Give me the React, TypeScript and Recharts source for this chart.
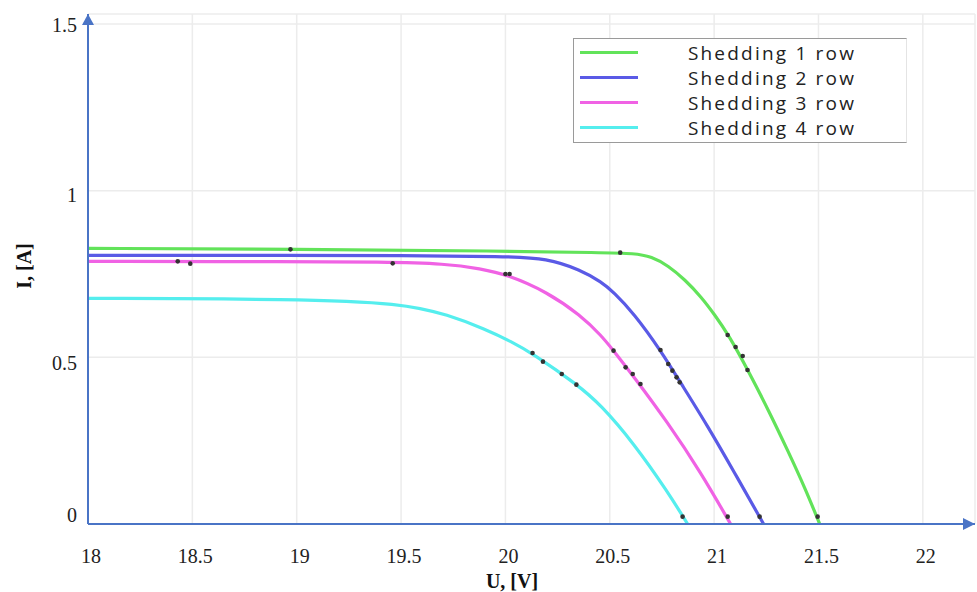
import React from 'react';
import {
  ComposedChart, Line, Scatter, XAxis, YAxis, CartesianGrid, Legend, ReferenceDot,
} from 'recharts';

// Shedding 1 row (green)
const U_ROW1 = [18, 19, 20, 20.46, 20.62, 20.7, 20.78, 20.86, 20.94, 21.0, 21.07, 21.166, 21.26, 21.357, 21.434, 21.506];
const I_ROW1 = [0.827, 0.824, 0.819, 0.814, 0.812, 0.802, 0.775, 0.733, 0.68, 0.63, 0.567, 0.457, 0.342, 0.215, 0.11, 0];
// Shedding 2 row (blue)
const U_ROW2 = [18, 19, 19.5, 20, 20.2, 20.36, 20.46, 20.518, 20.614, 20.743, 20.853, 20.968, 21.094, 21.237];
const I_ROW2 = [0.806, 0.806, 0.805, 0.803, 0.797, 0.762, 0.726, 0.696, 0.633, 0.522, 0.41, 0.295, 0.158, 0];
// Shedding 3 row (magenta)
const U_ROW3 = [18, 19, 19.4, 19.72, 19.88, 20.01, 20.2, 20.36, 20.46, 20.518, 20.614, 20.777, 20.935, 21.079];
const I_ROW3 = [0.788, 0.787, 0.786, 0.781, 0.766, 0.748, 0.696, 0.626, 0.565, 0.52, 0.443, 0.305, 0.156, 0];
// Shedding 4 row (cyan)
const U_ROW4 = [18, 19, 19.5, 19.73, 19.9, 20.03, 20.134, 20.345, 20.456, 20.614, 20.777, 20.873];
const I_ROW4 = [0.677, 0.675, 0.663, 0.627, 0.585, 0.547, 0.51, 0.418, 0.358, 0.243, 0.097, 0];

// measured points (black dots)
const DOT_U = [18.97, 20.55, 21.065, 21.103, 21.137, 21.16, 21.496,
  20.743, 20.78, 20.8, 20.82, 20.835, 21.218,
  18.43, 18.49, 19.46, 20.0, 20.02, 20.518, 20.576, 20.61, 20.647, 21.065,
  20.13, 20.18, 20.27, 20.34, 20.849];
const DOT_I = [0.824, 0.814, 0.567, 0.531, 0.504, 0.462, 0.022,
  0.522, 0.48, 0.46, 0.44, 0.425, 0.022,
  0.788, 0.781, 0.782, 0.75, 0.75, 0.52, 0.47, 0.45, 0.42, 0.022,
  0.513, 0.487, 0.45, 0.418, 0.022];

const X_TICKS = [18, 18.5, 19, 19.5, 20, 20.5, 21, 21.5, 22];
const Y_TICKS = [0, 0.5, 1, 1.5];
const SERIES_NAMES = ['Shedding 1 row', 'Shedding 2 row', 'Shedding 3 row', 'Shedding 4 row'];
const COLORS = ['#62E35A', '#5A5AE6', '#F062E4', '#55EEEE'];

const toPts = (u: number[], i: number[]) => u.map((v, k) => ({ u: v, i: i[k] }));
const SERIES = [toPts(U_ROW1, I_ROW1), toPts(U_ROW2, I_ROW2), toPts(U_ROW3, I_ROW3), toPts(U_ROW4, I_ROW4)];
const DOTS = toPts(DOT_U, DOT_I);

const AXIS_COLOR = '#4A74C6';
const X_MAX = 22.25;
const Y_MAX = 1.53;
const Y_LABEL_SHIFT: Record<string, number> = { '0': -9, '0.5': 6, '1': 4, '1.5': 1 };

const XTick = (props: any) => {
  const { x, y, payload } = props;
  return (
    <text x={x + 3} y={y + 31} textAnchor="middle" fontFamily="Liberation Serif" fontSize={20} fill="#222">
      {payload.value}
    </text>
  );
};

const YTick = (props: any) => {
  const { x, y, payload } = props;
  const dy = Y_LABEL_SHIFT[String(payload.value)] || 0;
  return (
    <text x={x - 3} y={y + dy + 7} textAnchor="end" fontFamily="Liberation Serif" fontSize={20} fill="#222">
      {payload.value}
    </text>
  );
};

const LegendBox = () => (
  <div
    style={{
      width: 334, height: 105, boxSizing: 'border-box',
      borderLeft: '1.5px solid #9a9a9a', borderTop: '1.5px solid #9a9a9a',
      borderBottom: '1.5px solid #9a9a9a', borderRight: '1px solid #e4e4e4',
      background: '#fff', paddingTop: 1,
    }}
  >
    {SERIES_NAMES.map((n, k) => (
      <div key={n} style={{ display: 'flex', alignItems: 'center', height: 25 }}>
        <div style={{ width: 58, height: 3, background: COLORS[k], marginLeft: 6 }} />
        <div
          style={{
            flex: 1, textAlign: 'center', fontFamily: 'Open Sans',
            fontSize: 19, letterSpacing: 2.2, color: '#222', whiteSpace: 'nowrap',
          }}
        >
          {n}
        </div>
      </div>
    ))}
  </div>
);

const ArrowRight = (props: any) => {
  const { cx, cy } = props;
  return <path d={`M${cx - 12},${cy - 6} L${cx},${cy} L${cx - 12},${cy + 6} Z`} fill={AXIS_COLOR} />;
};
const ArrowUp = (props: any) => {
  const { cx, cy } = props;
  return <path d={`M${cx - 6},${cy + 11} L${cx},${cy} L${cx + 6},${cy + 11} Z`} fill={AXIS_COLOR} />;
};

export default function App() {
  return (
    <div style={{ position: 'absolute', left: 0, top: 0, width: 977, height: 592, background: '#fff' }}>
      <ComposedChart width={977} height={592} margin={{ top: 14, right: 2, bottom: 0, left: 0 }}>
        <CartesianGrid stroke="#ececec" strokeWidth={1.5} />
        <XAxis
          type="number" dataKey="u" domain={[18, X_MAX]} ticks={X_TICKS} allowDataOverflow
          height={68} stroke={AXIS_COLOR} strokeWidth={2} tickLine={false} tick={<XTick />}
          label={{
            content: () => (
              <text x={512} y={588} textAnchor="middle" fontFamily="Liberation Serif" fontWeight="bold" fontSize={20} fill="#111">
                U, [V]
              </text>
            ),
          }}
        />
        <YAxis
          type="number" dataKey="i" domain={[0, Y_MAX]} ticks={Y_TICKS} allowDataOverflow
          width={88} stroke={AXIS_COLOR} strokeWidth={2} tickLine={false} tick={<YTick />}
          label={{
            content: () => (
              <text x={31} y={266} transform="rotate(-90 31 266)" textAnchor="middle" fontFamily="Liberation Serif" fontWeight="bold" fontSize={20} fill="#111">
                I, [A]
              </text>
            ),
          }}
        />
        <Legend
          layout="horizontal" verticalAlign="middle" align="center"
          content={<LegendBox />}
          wrapperStyle={{ left: 573, top: 38, width: 334, height: 105 }}
        />
        {SERIES.map((d, k) => (
          <Line
            key={SERIES_NAMES[k]} data={d} dataKey="i" name={SERIES_NAMES[k]} type="basis"
            stroke={COLORS[k]} strokeWidth={3.2} dot={false} isAnimationActive={false}
          />
        ))}
        <Scatter data={DOTS} dataKey="i" fill="#333" isAnimationActive={false}
          shape={(p: any) => <circle cx={p.cx} cy={p.cy} r={2.3} fill="#333" />} />
        <ReferenceDot x={X_MAX} y={0} ifOverflow="visible" shape={<ArrowRight />} />
        <ReferenceDot x={18} y={Y_MAX} ifOverflow="visible" shape={<ArrowUp />} />
      </ComposedChart>
    </div>
  );
}
